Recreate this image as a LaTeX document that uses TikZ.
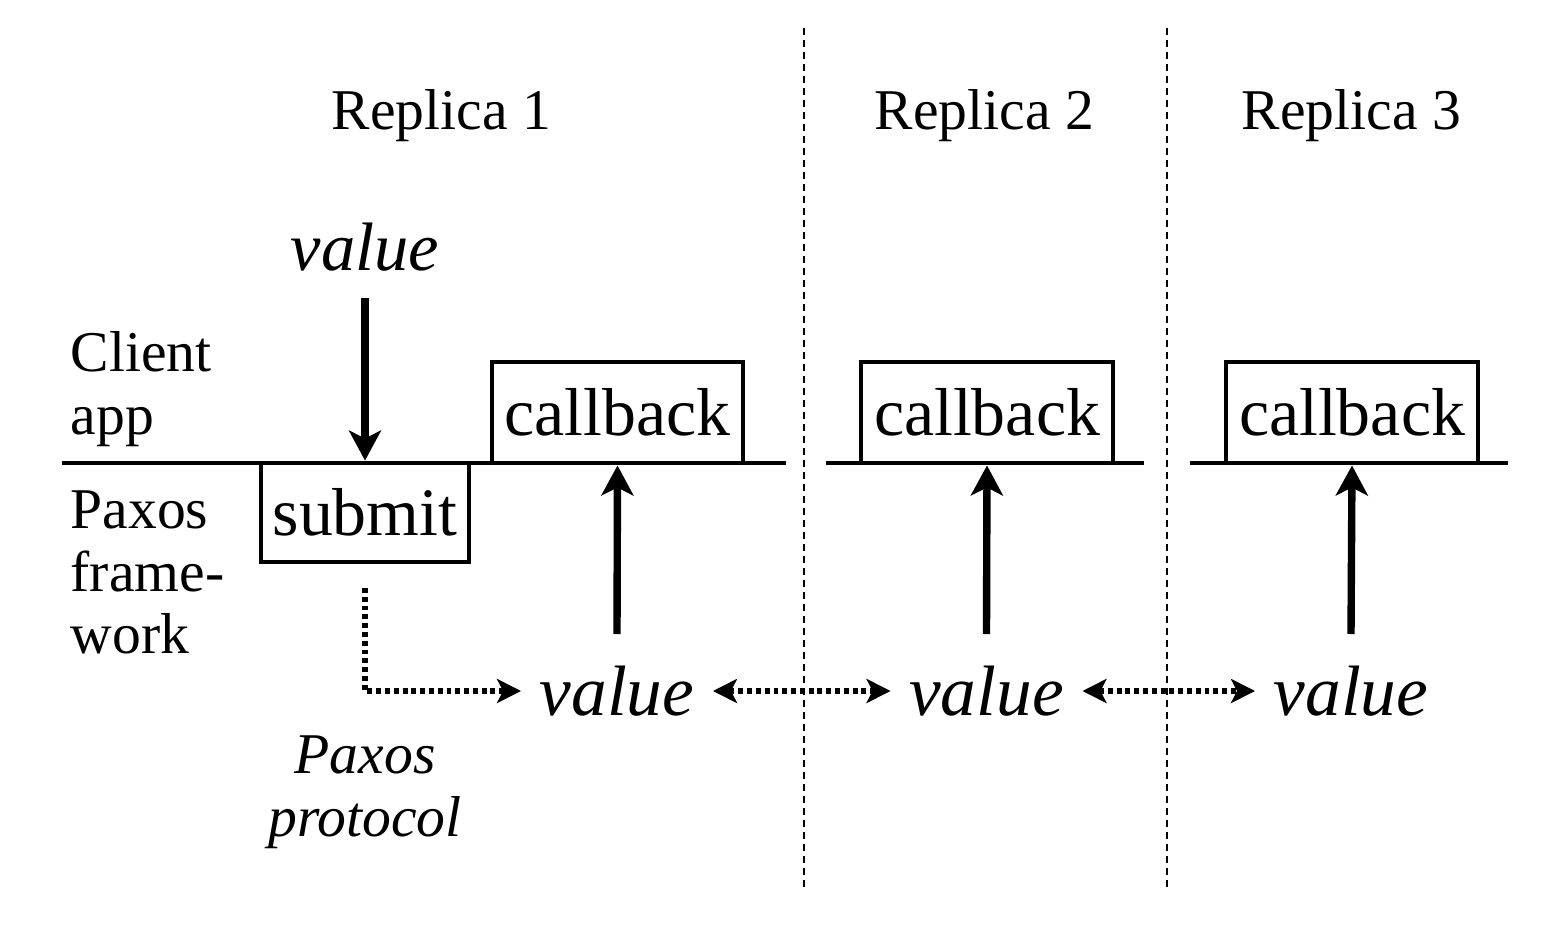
\documentclass[tikz,border=0pt]{standalone}
\usepackage{fontspec}
\setmainfont{Liberation Serif}
\usetikzlibrary{arrows.meta, positioning}

\begin{document}
\begin{tikzpicture}[
				title/.style={font=\fontsize{16.4}{17.8}\selectfont, inner sep=0pt},
				side/.style={font=\fontsize{16.4}{17.8}\selectfont, align=left, inner sep=0pt},
				note/.style={font=\fontsize{16.4}{17.8}\selectfont\itshape, align=center, inner sep=0pt},
				box/.style={rectangle, draw, line width=1.4pt, inner sep=0pt, text centered, font=\fontsize{19.3}{23}\selectfont},
				val/.style={font=\fontsize{20.3}{24}\selectfont\itshape, inner sep=0.18cm},
				layerline/.style={line width=1.4pt},
				divider/.style={line width=0.7pt, dash pattern=on 0.07cm off 0.05cm},
				arrow/.style={-{Stealth[length=0.3cm, width=0.32cm, inset=0.08cm]}, line width=2.1pt},
				msg/.style={line width=1.5pt, dash pattern=on 1.4pt off 1.1pt},
			]

			\useasboundingbox (0,0) rectangle (15.56,9.46);

			% Replica columns
			\draw [divider] (8.04,9.18) -- (8.04,0.56);
			\draw [divider] (11.67,9.18) -- (11.67,0.56);
			\node (replica1) [title, anchor=base] at (4.415,8.16) {Replica 1};
			\node (replica2) [title, anchor=base] at (9.845,8.16) {Replica 2};
			\node (replica3) [title, anchor=base] at (13.515,8.16) {Replica 3};

			% Layers
			\node (client_app) [side, anchor=north west] at (0.70,6.15) {Client\\app};
			\node (paxos_fw) [side, anchor=north west] at (0.70,4.56) {Paxos\\frame-\\work};
			\draw [layerline] (0.62,4.83) -- (7.86,4.83);
			\draw [layerline] (8.26,4.83) -- (11.44,4.83);
			\draw [layerline] (11.90,4.83) -- (15.08,4.83);

			% Replica 1
			\node (value_in) [val, inner sep=0pt, font=\fontsize{19.5}{23}\selectfont\itshape, anchor=base] at (3.65,6.76) {value};
			\coordinate (value_in_tail) at (3.65,6.48);
			\node (submit) [box, minimum width=2.08cm, minimum height=0.99cm] at (3.65,4.335) {submit};
			\node (callback1) [box, minimum width=2.51cm, minimum height=1.01cm] at (6.175,5.335) {callback};
			\node (value1) [val] at (6.17,2.55) {value};
			\coordinate (up1) at (6.17,3.12);
			\coordinate (submit_out) at (3.65,3.58);
			\node (protocol) [note, anchor=north] at (3.65,2.11) {Paxos\\protocol};

			% Replica 2
			\node (callback2) [box, minimum width=2.52cm, minimum height=1.01cm] at (9.87,5.335) {callback};
			\node (value2) [val] at (9.865,2.55) {value};
			\coordinate (up2) at (9.865,3.12);

			% Replica 3
			\node (callback3) [box, minimum width=2.52cm, minimum height=1.01cm] at (13.52,5.335) {callback};
			\node (value3) [val] at (13.51,2.55) {value};
			\coordinate (up3) at (13.51,3.12);

			% Arrows
			\draw [arrow] (value_in_tail) -- (submit.north);
			\draw [arrow] (up1) -- (callback1.south);
			\draw [arrow] (up2) -- (callback2.south);
			\draw [arrow] (up3) -- (callback3.south);

			% Paxos messages
			\draw [msg, -{Stealth[length=0.24cm, width=0.24cm, inset=0.06cm]}] (submit_out) |- (value1.west);
			\draw [msg, {Stealth[length=0.24cm, width=0.24cm, inset=0.06cm]}-{Stealth[length=0.24cm, width=0.24cm, inset=0.06cm]}] (value1.east) -- (value2.west);
			\draw [msg, {Stealth[length=0.24cm, width=0.24cm, inset=0.06cm]}-{Stealth[length=0.24cm, width=0.24cm, inset=0.06cm]}] (value2.east) -- (value3.west);

		\end{tikzpicture}
\end{document}
